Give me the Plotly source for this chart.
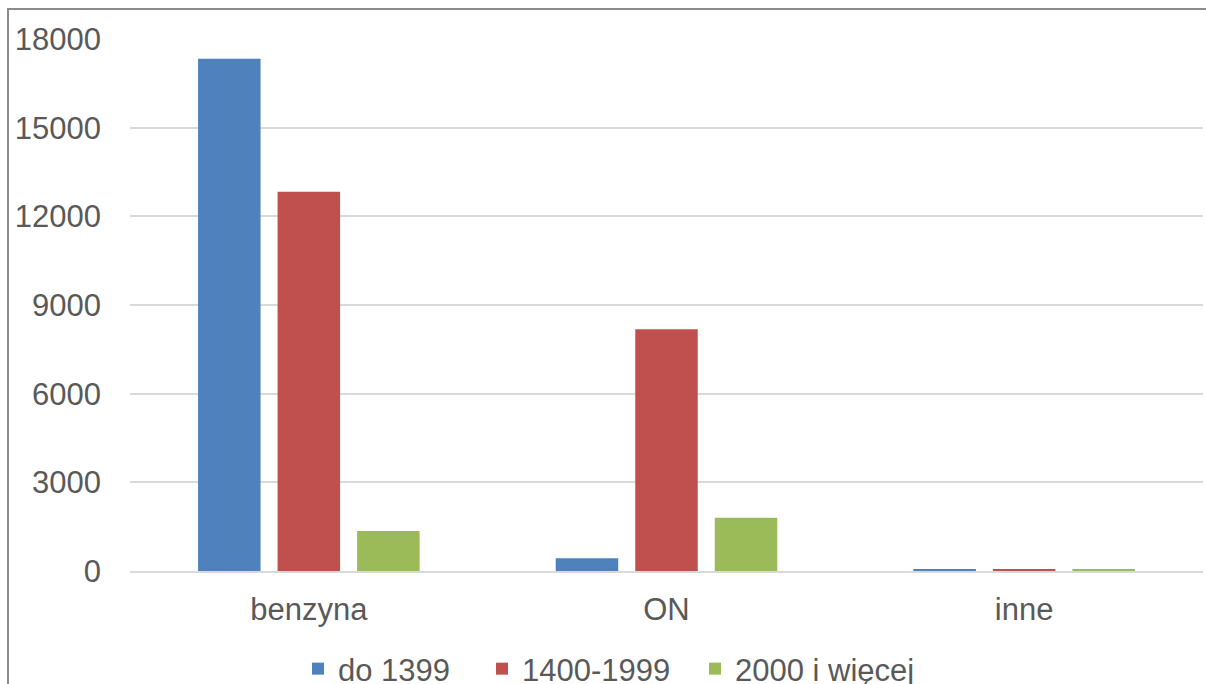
import plotly.graph_objects as go

categories = ["benzyna", "ON", "inne"]
series_names = ["do 1399", "1400-1999", "2000 i więcej"]
do_1399 = [17330, 430, 60]
s_1400_1999 = [12830, 8180, 60]
s_2000_plus = [1350, 1800, 50]
y_ticks = [0, 3000, 6000, 9000, 12000, 15000, 18000]

colors = ["#4f81bd", "#c0504d", "#9bbb59"]
values = [do_1399, s_1400_1999, s_2000_plus]
legend_ids = ["legend", "legend2", "legend3"]
legend_left_px = [298, 482, 695]

W, H = 1206, 684
L, R, T, B = 130, 3, 39, 113
pw = W - L - R
ph = H - T - B

def px_x(x):
    return (x - L) / pw

def px_y(y):
    return (H - B - y) / ph

fig = go.Figure()
for name, vals, c, lid in zip(series_names, values, colors, legend_ids):
    fig.add_trace(go.Bar(name=name, x=categories, y=vals, legend=lid,
                         marker=dict(color=c, line=dict(width=0))))

font = dict(family="Liberation Sans, Arial, sans-serif", size=31, color="#595959")

legend_layout = {}
for lid, lx in zip(legend_ids, legend_left_px):
    legend_layout[lid] = dict(orientation="h", x=px_x(lx), xanchor="left", y=px_y(669),
                              yanchor="middle", font=font, bgcolor="rgba(0,0,0,0)",
                              itemwidth=30)

fig.update_layout(
    width=W, height=H,
    margin=dict(l=L, r=R, t=T, b=B, autoexpand=False),
    paper_bgcolor="white", plot_bgcolor="white",
    barmode="group", bargap=0.333, bargroupgap=0.214,
    font=font,
    showlegend=True,
    xaxis=dict(showgrid=False, showline=True, linecolor="#d9d9d9", linewidth=1.5,
               ticks="", tickfont=font, ticklabelstandoff=10),
    yaxis=dict(range=[0, 18000], tickvals=y_ticks, tickformat="d", showgrid=True,
               gridcolor="#d9d9d9", gridwidth=1.5, zeroline=False, showline=False, ticks="",
               tickfont=font, ticklabelstandoff=28),
    shapes=[
        dict(type="line", xref="paper", yref="paper", x0=px_x(8), x1=px_x(8), y0=px_y(9), y1=px_y(690),
             line=dict(color="#8c8c8c", width=2)),
        dict(type="line", xref="paper", yref="paper", x0=px_x(7), x1=px_x(1210), y0=px_y(9), y1=px_y(9),
             line=dict(color="#8c8c8c", width=2)),
    ],
    **legend_layout,
)

fig.write_html(
    "out.html",
    config={"displayModeBar": False},
    post_script="document.body.style.margin='0';document.body.style.overflow='hidden';",
)
